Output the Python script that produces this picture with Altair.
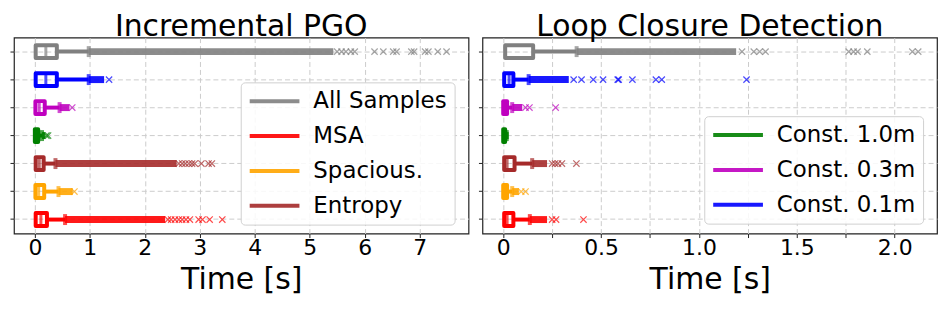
import altair as alt
import pandas as pd

# Row order (top to bottom) and colours
GROUPS = ["All Samples", "Const. 0.1m", "Const. 0.3m", "Const. 1.0m", "Entropy", "Spacious.", "MSA"]
COLORS = ["#808080", "#0000ff", "#bf00bf", "#008000", "#a52a2a", "#ffa500", "#ff0000"]

# ---------------- Incremental PGO (seconds) ----------------
PGO_Q1 = [0.015, 0.015, 0.01, 0.0, 0.015, 0.01, 0.015]
PGO_MED = [0.20, 0.20, 0.08, 0.025, 0.08, 0.07, 0.11]
PGO_Q3 = [0.40, 0.40, 0.18, 0.06, 0.16, 0.17, 0.22]
PGO_WHISKER = [0.98, 0.98, 0.45, 0.13, 0.375, 0.43, 0.55]
PGO_DENSE_END = [5.43, 1.26, 0.63, 0.19, 2.58, 0.69, 2.37]
PGO_OUTLIERS = {
    "All Samples": [5.5, 5.58, 5.66, 5.75, 5.82, 6.18, 6.34, 6.52, 6.58, 6.85, 6.9, 7.1, 7.16, 7.33, 7.49],
    "Const. 0.1m": [1.35],
    "Const. 0.3m": [0.68],
    "Const. 1.0m": [0.21, 0.24],
    "Entropy": [2.62, 2.68, 2.74, 2.8, 2.86, 2.91, 3.03, 3.16, 3.22],
    "Spacious.": [0.72],
    "MSA": [2.42, 2.48, 2.55, 2.62, 2.68, 2.75, 2.82, 2.98, 3.05, 3.18, 3.41],
}
PGO_TICKS = [0, 1, 2, 3, 4, 5, 6, 7]
PGO_LEGEND = ["All Samples", "MSA", "Spacious.", "Entropy"]

# ---------------- Loop Closure Detection (seconds) ----------------
LCD_Q1 = [0.01, 0.005, 0.0, 0.0, 0.005, 0.0, 0.005]
LCD_MED = [0.012, 0.03, 0.008, 0.004, 0.02, 0.008, 0.02]
LCD_Q3 = [0.153, 0.052, 0.02, 0.01, 0.058, 0.02, 0.052]
LCD_WHISKER = [0.375, 0.13, 0.046, 0.018, 0.148, 0.046, 0.136]
LCD_DENSE_END = [1.19, 0.335, 0.097, 0.028, 0.224, 0.08, 0.224]
LCD_OUTLIERS = {
    "All Samples": [1.22, 1.28, 1.31, 1.34, 1.765, 1.79, 1.81, 1.86, 2.09, 2.12],
    "Const. 0.1m": [0.36, 0.40, 0.46, 0.51, 0.585, 0.59, 0.66, 0.78, 0.81, 1.243],
    "Const. 0.3m": [0.114, 0.134, 0.268],
    "Const. 1.0m": [],
    "Entropy": [0.25, 0.265, 0.28, 0.30, 0.374],
    "Spacious.": [0.092, 0.114],
    "MSA": [0.25, 0.27, 0.41],
}
LCD_TICKS = [0, 0.25, 0.5, 0.75, 1.0, 1.25, 1.5, 1.75, 2.0]
LCD_LEGEND = ["Const. 1.0m", "Const. 0.3m", "Const. 0.1m"]

FONT = "DejaVu Sans"
XMARK = "M-1,-1L1,1M-1,1L1,-1"
LEGEND_LINE = "M-2.5,0L2.5,0"


def panel(title, q1, med, q3, wh, dense_end, outliers, x_domain, ticks, label_expr,
          legend_values, legend_x, legend_y):
    box = pd.DataFrame({"group": GROUPS, "q1": q1, "med": med, "q3": q3,
                        "wh": wh, "dense_end": dense_end})
    out = pd.DataFrame([{"group": g, "value": v} for g in GROUPS for v in outliers[g]])

    yenc = alt.Y("group:N", sort=GROUPS,
                 scale=alt.Scale(domain=GROUPS, paddingInner=0, paddingOuter=0),
                 axis=alt.Axis(title=None, labels=False, ticks=True, tickSize=4,
                               domain=False, grid=True))
    cscale = alt.Scale(domain=GROUPS, range=COLORS)
    xscale = alt.Scale(domain=x_domain, nice=False, zero=False)
    xaxis = alt.Axis(title="Time [s]", values=ticks, labelExpr=label_expr, domain=False,
                     grid=True)
    legend = alt.Legend(
        title=None, values=legend_values, orient="none",
        legendX=legend_x, legendY=legend_y, symbolType=LEGEND_LINE,
        symbolSize=400, symbolStrokeWidth=4, symbolOffset=15, labelFontSize=23,
        labelFont=FONT, labelColor="black", labelOffset=27,
        rowPadding=11, padding=7, strokeColor="#d0d0d0",
        fillColor="rgba(255,255,255,0.85)", cornerRadius=4,
        labelLimit=300)
    col = alt.Color("group:N", scale=cscale, legend=legend)

    base = alt.Chart(box)
    dense = base.mark_bar(size=7, opacity=0.9).encode(
        x=alt.X("wh:Q", scale=xscale, axis=xaxis), x2="dense_end:Q", y=yenc, color=col)
    whisk = base.mark_rule(strokeWidth=4).encode(
        x="q3:Q", x2="wh:Q", y=yenc, color=col)
    boxes = base.mark_bar(filled=False, size=13, strokeWidth=4, strokeJoin="round").encode(
        x="q1:Q", x2="q3:Q", y=yenc, color=col)
    meds = base.mark_tick(thickness=3, size=13).encode(x="med:Q", y=yenc, color=col)
    caps = base.mark_tick(thickness=4, size=11).encode(x="wh:Q", y=yenc, color=col)
    pts = alt.Chart(out).mark_point(shape=XMARK, filled=False, size=40, strokeWidth=1.2).encode(
        x="value:Q", y=yenc, color=col)

    return alt.layer(whisk, dense, boxes, meds, caps, pts).properties(
        width=457, height=197,
        title=alt.Title(title, fontSize=30, font=FONT, fontWeight="normal", offset=-4,
                        color="black"))


left = panel("Incremental PGO", PGO_Q1, PGO_MED, PGO_Q3, PGO_WHISKER, PGO_DENSE_END,
             PGO_OUTLIERS, [-0.38, 7.89], PGO_TICKS, "format(datum.value, '.0f')",
             PGO_LEGEND, 228, 45)
right = panel("Loop Closure Detection", LCD_Q1, LCD_MED, LCD_Q3, LCD_WHISKER, LCD_DENSE_END,
              LCD_OUTLIERS, [-0.106, 2.216], LCD_TICKS,
              "datum.value == 0 ? '0' : (abs(datum.value * 2 - round(datum.value * 2)) < 1e-6 ? format(datum.value, '.1f') : '')",
              LCD_LEGEND, 223, 79)

chart = alt.hconcat(left, right, spacing=7).resolve_scale(color="independent").resolve_legend(
    color="independent").properties(
    padding={"top": 2, "left": 0, "right": 0, "bottom": 0}).configure(font=FONT).configure_view(
    stroke="#222222", strokeWidth=1.2).configure_axis(
    labelFontSize=22, labelFont=FONT, labelColor="black", titleFontSize=30,
    titleFont=FONT, titleFontWeight="normal", titleColor="black", tickColor="#222222",
    tickSize=4, labelPadding=0, titlePadding=6, gridColor="#cccccc", gridDash=[5, 3],
    gridWidth=1)

chart.save("out.html", embed_options={"renderer": "svg", "actions": False})
